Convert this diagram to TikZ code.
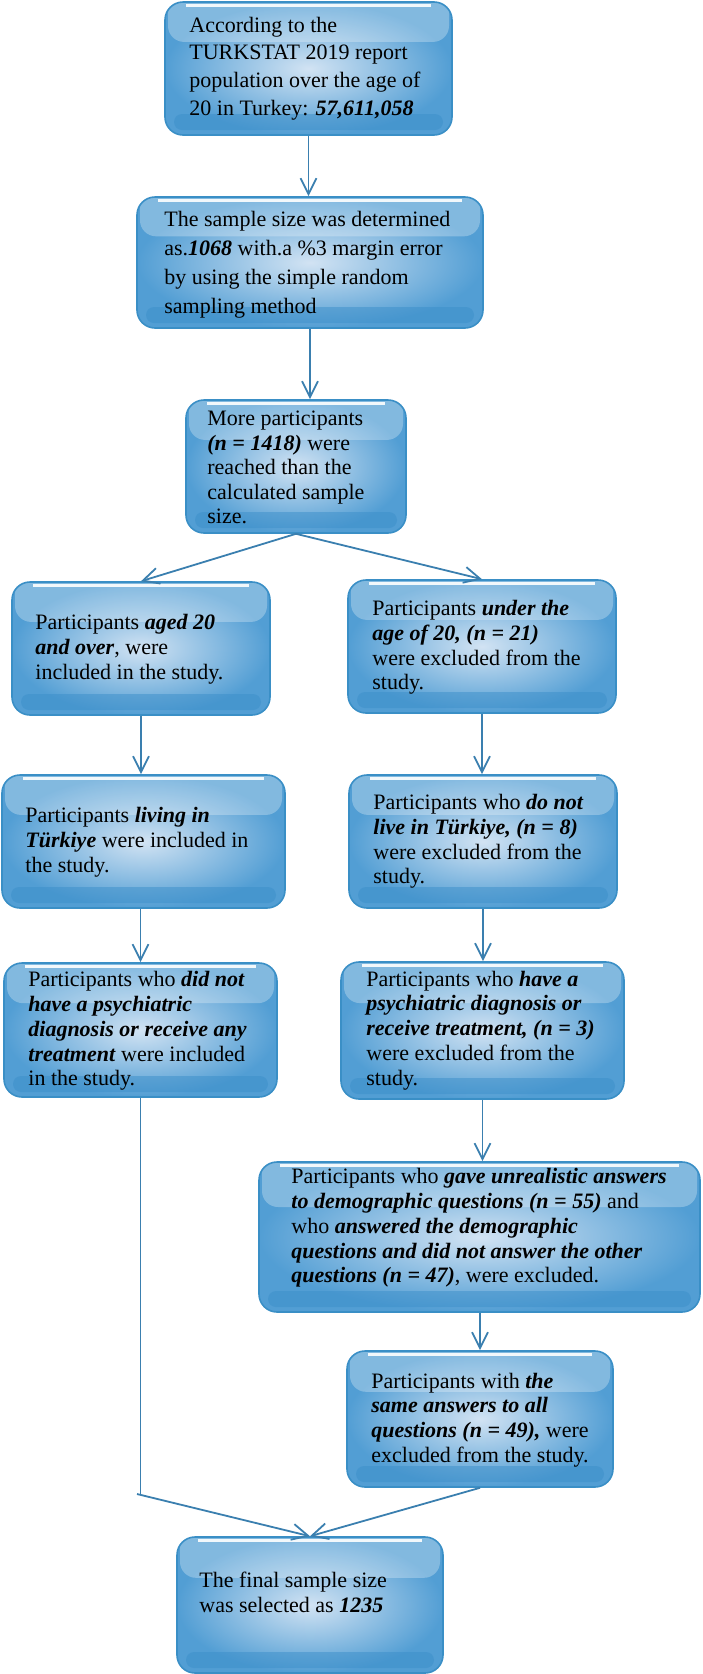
\documentclass[tikz,border=0pt]{standalone}
\usepackage{fontspec}
\setmainfont{Liberation Serif}
\usetikzlibrary{arrows.meta,calc}
\definecolor{bedge}{RGB}{58,143,198}
\definecolor{bin}{RGB}{210,227,243}
\definecolor{bout}{RGB}{82,158,212}
\definecolor{bband}{RGB}{60,143,202}
\definecolor{arr}{RGB}{58,127,175}
\newcommand{\bi}[1]{\textbf{\textit{#1}}}
\tikzset{
  gbox/.style={draw=bedge, line width=1.6pt, rounded corners=18pt,
    inner color=bin, outer color=bout, inner sep=0pt,
    path picture={
      \fill[white, fill opacity=0.28, rounded corners=16pt]
        let \p1=(path picture bounding box.north west),
            \p2=(path picture bounding box.south east) in
        (\x1+3pt,\y1+5pt) rectangle (\x2-3pt,{\y1-0.3*(\y1-\y2)});
      \fill[white, fill opacity=0.9, sharp corners]
        let \p1=(path picture bounding box.north west),
            \p2=(path picture bounding box.south east) in
        (\x1+21pt,\y1-2pt) rectangle (\x2-21pt,\y1-5pt);
      \fill[bband, fill opacity=0.5, rounded corners=8pt]
        let \p1=(path picture bounding box.north west),
            \p2=(path picture bounding box.south east) in
        (\x1+9pt,\y2+5pt) rectangle (\x2-9pt,\y2+21pt);
    }},
  gtext/.style={anchor=west, inner sep=0pt, align=left, text=black,
    font=\fontsize{22}{24.8}\selectfont},
  conn/.style={draw=arr, line width=1.8pt, -{Straight Barb[length=16pt,width=16pt]}},
  plain/.style={draw=arr, line width=1.8pt}
}
\begin{document}
\begin{tikzpicture}[x=1pt,y=-1pt]
\useasboundingbox (0,0) rectangle (702,1674);

% boxes
\node[gbox, minimum width=287pt, minimum height=133pt] (b1) at (308.5,68.5) {};
\node[gbox, minimum width=346pt, minimum height=131pt] (b2) at (310,262.5) {};
\node[gbox, minimum width=220pt, minimum height=133pt] (b3) at (296,466.5) {};
\node[gbox, minimum width=258pt, minimum height=133pt] (l1) at (141,648.5) {};
\node[gbox, minimum width=268pt, minimum height=133pt] (r1) at (482,646.5) {};
\node[gbox, minimum width=283pt, minimum height=133pt] (l2) at (143.5,841.5) {};
\node[gbox, minimum width=268pt, minimum height=133pt] (r2) at (483,841.5) {};
\node[gbox, minimum width=273pt, minimum height=134pt] (l3) at (140.5,1030) {};
\node[gbox, minimum width=283pt, minimum height=137pt] (r3) at (482.5,1030.5) {};
\node[gbox, minimum width=441pt, minimum height=150pt] (r4) at (479.5,1237) {};
\node[gbox, minimum width=266pt, minimum height=136pt] (r5) at (480,1419) {};
\node[gbox, minimum width=266pt, minimum height=136pt] (f) at (310,1605) {};

% texts
\node[gtext, font=\fontsize{22}{27.7}\selectfont] (t1) at ($(b1.west)+(25,0)$)
  {According to the\\TURKSTAT 2019 report\\population over the age of\\20 in Turkey: \bi{57,611,058}};
\node[gtext, font=\fontsize{22}{29}\selectfont] (t2) at ($(b2.west)+(28,2)$)
  {The sample size was determined\\as.\bi{1068} with.a \%3 margin error\\by using the simple random\\sampling method};
\node[gtext, font=\fontsize{22}{24.6}\selectfont] (t3) at ($(b3.west)+(22,1)$)
  {More participants\\\bi{(n = 1418)} were\\reached than the\\calculated sample\\size.};
\node[gtext] (tl1) at ($(l1.west)+(24,1)$)
  {Participants \bi{aged 20}\\\bi{and over}, were\\included in the study.};
\node[gtext] (tr1) at ($(r1.west)+(25,1)$)
  {Participants \bi{under the}\\\bi{age of 20, (n = 21)}\\were excluded from the\\study.};
\node[gtext] (tl2) at ($(l2.west)+(24,1)$)
  {Participants \bi{living in}\\\bi{Türkiye} were included in\\the study.};
\node[gtext] (tr2) at ($(r2.west)+(25,0)$)
  {Participants who \bi{do not}\\\bi{live in Türkiye, (n = 8)}\\were excluded from the\\study.};
\node[gtext] (tl3) at ($(l3.west)+(25,1)$)
  {Participants who \bi{did not}\\\bi{have a psychiatric}\\\bi{diagnosis or receive any}\\\bi{treatment} were included\\in the study.};
\node[gtext] (tr3) at ($(r3.west)+(26,0)$)
  {Participants who \bi{have a}\\\bi{psychiatric diagnosis or}\\\bi{receive treatment, (n = 3)}\\were excluded from the\\study.};
\node[gtext] (tr4) at ($(r4.west)+(33,-9)$)
  {Participants who \bi{gave unrealistic answers}\\\bi{to demographic questions (n = 55)} and\\who \bi{answered the demographic}\\\bi{questions and did not answer the other}\\\bi{questions (n = 47)}, were excluded.};
\node[gtext] (tr5) at ($(r5.west)+(25,1)$)
  {Participants with \bi{the}\\\bi{same answers to all}\\\bi{questions (n = 49),} were\\excluded from the study.};
\node[gtext] (tf) at ($(f.west)+(23,-13)$)
  {The final sample size\\was selected as \bi{1235}};

% connectors
\draw[conn] (b1.south) -- (b1.south |- b2.north);
\draw[conn] (b2.south) -- (b2.south |- b3.north);
\draw[conn] (b3.south) -- (l1.north);
\draw[conn] (b3.south) -- (r1.north);
\draw[conn] (l1.south) -- (l1.south |- l2.north);
\draw[conn] (l3.north |- l2.south) -- (l3.north);
\draw[conn] (r1.south) -- (r1.south |- r2.north);
\draw[conn] (r2.south) -- (r2.south |- r3.north);
\draw[conn] (r3.south) -- (r3.south |- r4.north);
\draw[conn] (r5.north |- r4.south) -- (r5.north);
\coordinate (j) at (137,1494);
\draw[plain] (l3.south) -- (l3.south |- j);
\draw[conn] (j) -- (f.north);
\draw[conn] (r5.south) -- (f.north);
\end{tikzpicture}
\end{document}
